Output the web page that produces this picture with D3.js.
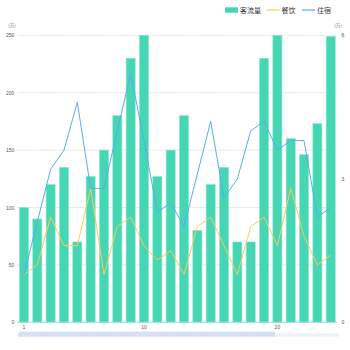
<!DOCTYPE html>
<html>
<head>
<meta charset="utf-8">
<script src="https://cdn.jsdelivr.net/npm/d3@7/dist/d3.min.js"></script>
<style>
html,body{margin:0;padding:0;background:#fff;}
svg{display:block;}
</style>
</head>
<body>
<svg id="chart" width="350" height="350"></svg>
<script>
const categories = d3.range(1, 25).map(String);
const visitors = [100, 90, 120, 135, 70, 127, 150, 180, 230, 250, 127, 150, 180, 80, 120, 135, 70, 70, 230, 250, 160, 146, 173, 249];
const dining = [1.0, 1.2, 2.2, 1.6, 1.6, 2.8, 1.0, 2.0, 2.2, 1.6, 1.3, 1.5, 1.0, 2.0, 2.2, 1.6, 1.0, 2.0, 2.2, 1.6, 2.8, 1.8, 1.2, 1.4];
const lodging = [1.0, 2.1, 3.2, 3.6, 4.6, 2.8, 2.8, 4.0, 5.2, 3.8, 2.3, 2.5, 2.0, 3.1, 4.2, 2.6, 3.0, 4.0, 4.2, 3.6, 3.8, 3.8, 2.2, 2.4];
const leftTicks = [0, 50, 100, 150, 200, 250];
const rightTicks = [0, 3, 6];
const xLabels = ["1", "10", "20"];
const seriesNames = ["客流量", "餐饮", "住宿"];

const C_BAR = "#45d6b4", C_DIN = "#f8cd5a", C_LOD = "#58acf3";
const svg = d3.select("#chart");
const L = 17.3, R = 337.4, T = 35.3, B = 322.3;

const x = d3.scaleBand().domain(categories).range([L, R]).paddingInner(0.32).paddingOuter(0.16);
const yL = d3.scaleLinear().domain([0, 250]).range([B, T]);
const yR = d3.scaleLinear().domain([0, 6]).range([B, T]);

// grid
svg.append("g").selectAll("line").data(leftTicks.filter(d => d > 0)).join("line")
  .attr("x1", L).attr("x2", R).attr("y1", d => yL(d)).attr("y2", d => yL(d))
  .attr("stroke", "#d2d2d2").attr("stroke-width", 0.8).attr("stroke-dasharray", "1.5,1");

// axes
const font = "'Liberation Sans', Arial, sans-serif";
const gl = svg.append("g").attr("transform", `translate(${L},0)`)
  .call(d3.axisLeft(yL).tickValues(leftTicks).tickSize(0).tickPadding(3).tickFormat(d3.format("d")));
gl.select(".domain").remove();
gl.selectAll("text").attr("font-size", 5).attr("fill", "#555").attr("font-family", font);

const gr = svg.append("g").attr("transform", `translate(${R},0)`)
  .call(d3.axisRight(yR).tickValues(rightTicks).tickSize(0).tickPadding(4).tickFormat(d3.format("d")));
gr.select(".domain").remove();
gr.selectAll("text").attr("font-size", 5).attr("fill", "#555").attr("font-family", font);

const gx = svg.append("g").attr("transform", `translate(0,${B})`)
  .call(d3.axisBottom(x).tickValues(xLabels).tickSize(0).tickPadding(3));
gx.select(".domain").remove();
gx.selectAll("text").attr("font-size", 5).attr("fill", "#555").attr("font-family", font);

svg.append("text").attr("x", 12).attr("y", 27).attr("text-anchor", "middle")
  .attr("font-size", 4.5).attr("fill", "#666").attr("font-family", "'Noto Sans CJK SC', sans-serif").text("(万)");
svg.append("text").attr("x", 338).attr("y", 27).attr("text-anchor", "middle")
  .attr("font-size", 4.5).attr("fill", "#666").attr("font-family", "'Noto Sans CJK SC', sans-serif").text("(万)");

// bars
svg.append("g").selectAll("rect").data(visitors).join("rect")
  .attr("x", (d, i) => x(categories[i]))
  .attr("width", x.bandwidth())
  .attr("y", d => yL(d))
  .attr("height", d => B - yL(d))
  .attr("fill", C_BAR)
  .attr("stroke", "#8ee6cf").attr("stroke-width", 0.6);

// x axis line
svg.append("line").attr("x1", L).attr("x2", R).attr("y1", B).attr("y2", B)
  .attr("stroke", "#9fe3d2").attr("stroke-width", 1);

// lines
const cx = i => x(categories[i]) + x.bandwidth() / 2;
const lineGen = d3.line().x((d, i) => cx(i)).y(d => yR(d));
svg.append("path").datum(dining).attr("d", lineGen).attr("fill", "none")
  .attr("stroke", C_DIN).attr("stroke-width", 1);
svg.append("path").datum(lodging).attr("d", lineGen).attr("fill", "none")
  .attr("stroke", C_LOD).attr("stroke-width", 1);

// data zoom slider
svg.append("rect").attr("x", 18.3).attr("y", 333.5).attr("width", 320.7).attr("height", 3.2)
  .attr("fill", "#eef1fb");
svg.append("rect").attr("x", 18.3).attr("y", 331.7).attr("width", 256.7).attr("height", 5)
  .attr("fill", "#d7dff6");

// legend
const lg = svg.append("g").attr("font-family", "'Noto Sans CJK SC', sans-serif").attr("font-size", 7).attr("fill", "#333");
lg.append("rect").attr("x", 225).attr("y", 7.3).attr("width", 13).attr("height", 5.4).attr("fill", C_BAR);
lg.append("text").attr("x", 240).attr("y", 12.6).text(seriesNames[0]);
lg.append("line").attr("x1", 267).attr("x2", 279.5).attr("y1", 10).attr("y2", 10).attr("stroke", C_DIN).attr("stroke-width", 1.2);
lg.append("text").attr("x", 281.5).attr("y", 12.6).text(seriesNames[1]);
lg.append("line").attr("x1", 302).attr("x2", 315).attr("y1", 10).attr("y2", 10).attr("stroke", C_LOD).attr("stroke-width", 1.2);
lg.append("text").attr("x", 317).attr("y", 12.6).text(seriesNames[2]);
</script>
</body>
</html>
